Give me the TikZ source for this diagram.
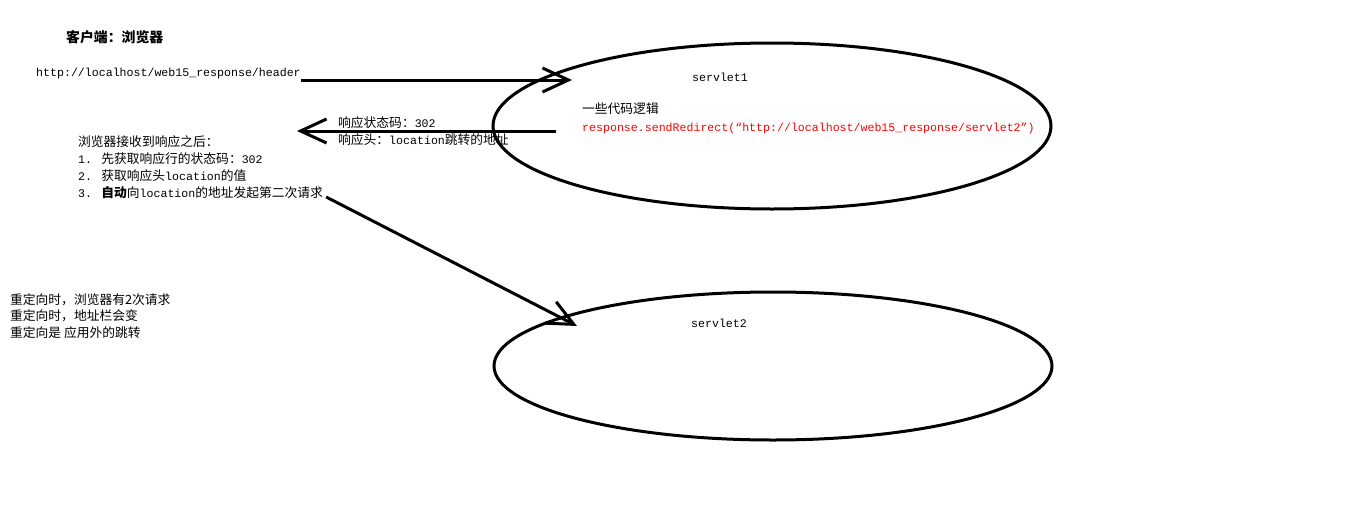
\documentclass[tikz,border=0pt]{standalone}
\usepackage{fontspec}
\setmainfont{Liberation Mono}
\newfontfamily\cjk[Scale=1.1]{Noto Sans CJK SC}
\usepackage{xcolor}
\usetikzlibrary{shapes.geometric, arrows.meta, positioning}

\begin{document}
\begin{tikzpicture}[
    x=1pt, y=-1pt,
    txt/.style={anchor=west, inner sep=0pt, font=\fontsize{11.6}{14}\selectfont},
    servlet/.style={ellipse, draw, line width=3pt, inner sep=0pt},
    arrow/.style={-{Straight Barb[length=26pt,width=24pt]}, line width=3pt}
]
\useasboundingbox (0,0) rectangle (1345,525);

% servers
\node[servlet, minimum width=558pt, minimum height=166pt] (servletA) at (772,126) {};
\node[servlet, minimum width=558pt, minimum height=148pt] (servletB) at (773,366) {};
\node[txt, anchor=center] (nameA) at (720,77) {servlet1};
\node[txt, anchor=center] (nameB) at (719,323) {servlet2};
\node[txt] (logic) at (582,109) {\cjk 一些代码逻辑};
\node[txt, text=red] (redirect) at (582,128) {response.sendRedirect(“http://localhost/web15\_response/servlet2”)};

% browser side
\node[txt] (client) at (66,37) {\cjk\bfseries\fontsize{12.6}{14}\selectfont 客户端：浏览器};
\node[txt] (url) at (36,73) {http://localhost/web15\_response/header};
\node[txt] (status) at (338,123) {{\cjk 响应状态码：}302};
\node[txt] (header) at (338,140) {{\cjk 响应头：}location{\cjk 跳转的地址}};
\node[txt] (after) at (78,142) {\cjk 浏览器接收到响应之后：};
\node[txt] (stepA) at (78,159) {1. {\cjk 先获取响应行的状态码：}302};
\node[txt] (stepB) at (78,176) {2. {\cjk 获取响应头}location{\cjk 的值}};
\node[txt] (stepC) at (78,193) {3. {\cjk\bfseries 自动}{\cjk 向}location{\cjk 的地址发起第二次请求}};

% notes
\node[txt] (noteA) at (10,300) {\cjk 重定向时，浏览器有2次请求};
\node[txt] (noteB) at (10,316) {\cjk 重定向时，地址栏会变};
\node[txt] (noteC) at (10,333) {\cjk 重定向是 应用外的跳转};

\coordinate (reqA) at (572,80);
\coordinate (redirFrom) at (556,131);
\coordinate (redirTo) at (297,131);
\coordinate (reqB) at (577,326);

\draw[arrow] (url.east |- reqA) -- (reqA);
\draw[arrow] (redirFrom) -- (redirTo);
\draw[arrow] ([shift={(3,4)}]stepC.east) -- (reqB);

\end{tikzpicture}
\end{document}
